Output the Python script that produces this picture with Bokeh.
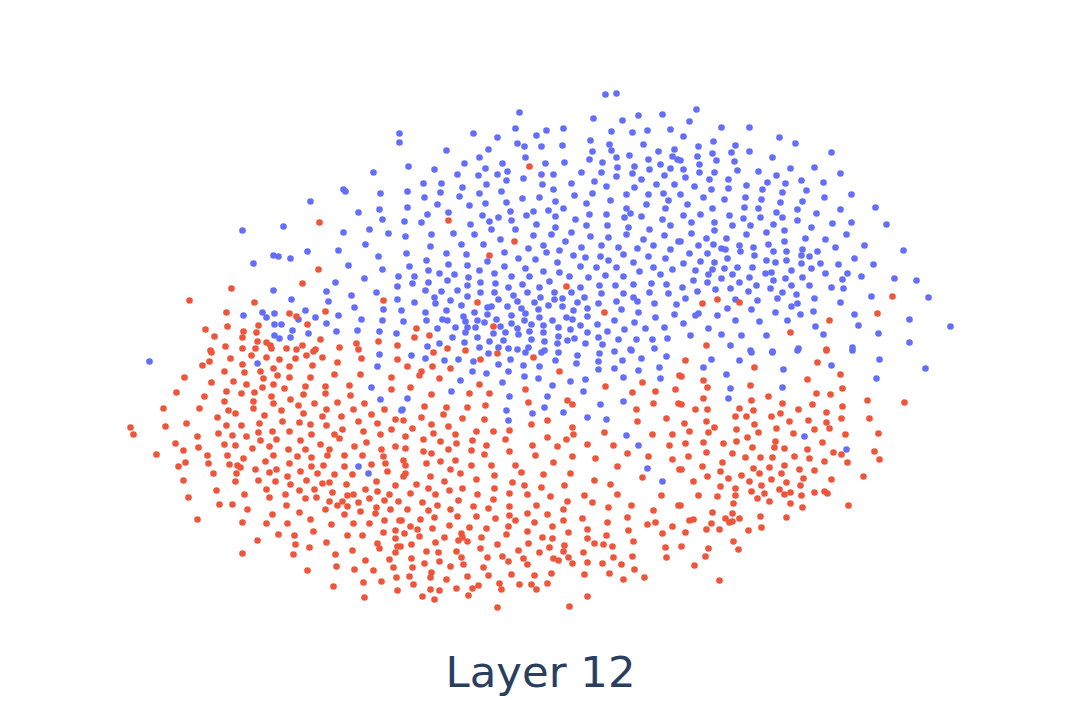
from bokeh.plotting import figure
from bokeh.models import Range1d, Label, ColumnDataSource
from bokeh.embed import file_html
from bokeh.resources import INLINE

BLUE_COLOR = "#636EFA"
RED_COLOR = "#EF553B"
TITLE = "Layer 12"

blue_points = [
(399,133),(399,142),(373,172),(343,189),(345,191),(380,193),(310,201),(379,209),(358,212),(382,219),(283,226),(242,230),(369,229),(343,232),(388,233),(365,244),(338,250),(307,251),(273,255),(278,256),(290,258),(378,256),(253,263),(348,265),(382,269),(398,276),(364,278),(335,282),(397,286),(273,290),(326,291),(376,292),(351,295),(291,299),(328,301),(397,299),(354,307),(383,309),(262,312),(274,313),(305,310),(243,315),(338,315),(266,317),(298,319),(315,317),(361,319),(382,320),(274,324),(281,324),(326,323),(336,331),(292,330),(357,330),(379,331),(396,333),(274,335),(279,338),(290,337),(308,333),
(149,361),(257,363),(379,354),(377,366),(371,387),(380,399),(401,410),(358,466),(368,473),
(411,355),(425,358),(444,360),(458,359),(473,361),(488,353),(510,359),(525,352),(541,352),(558,352),(577,355),(599,353),(614,351),(631,350),(666,356),(641,358),(622,360),(598,361),(576,363),(555,360),(498,364),(523,365),(539,366),(659,367),(614,368),(598,369),(638,370),(472,371),(486,373),(508,371),(524,376),(623,377),(538,378),(585,379),(660,378),(460,380),(502,382),(570,381),(552,385),(451,391),(583,391),(509,396),(547,396),(407,398),(623,401),(600,404),(544,407),(506,410),(402,409),(532,413),(563,412),(587,417),(606,419),(508,420),(626,435),(638,445),(647,468),(662,481),
(711,359),(703,367),(751,352),(739,360),(772,352),(797,350),(852,350),(783,369),(831,365),(879,359),(925,368),(726,374),(876,378),(730,388),(782,387),(728,398),(804,436),(846,449),
(605,94),(616,93),(519,112),(638,115),(662,114),(593,118),(622,120),(515,128),(563,128),(546,130),(536,135),(611,131),(632,132),(647,130),(670,129),(473,133),(497,137),(590,140),(517,143),(524,146),(541,146),(562,145),(609,144),(643,144),(446,150),(488,149),(592,151),(611,150),(658,151),(674,149),(479,157),(525,157),(589,159),(616,157),(629,155),(672,156),(677,159),(464,163),(502,163),(545,163),(564,162),(602,162),(648,159),(660,164),(408,166),(434,169),(485,168),(634,166),(617,167),(649,169),(670,168),(507,171),(457,174),(478,175),(497,174),(541,174),(553,174),(581,172),(601,172),(632,173),(616,176),(664,175),(523,178),(506,180),(594,181),(641,179),(423,183),(441,183),(571,183),(486,184),(542,184),(656,184),(674,184),(462,187),(606,186),(634,187),(501,191),(553,189),(407,191),(440,192),(479,193),(592,193),(663,193),(626,194),(648,194),(574,195),(459,196),(424,197),(522,198),(539,197),(610,200),(668,200),(555,201),(506,202),(485,203),(586,203),(437,204),(469,205),(646,204),(407,207),(665,208),(626,208),(563,208),(510,211),(533,211),(548,210),(448,212),(630,213),(589,214),(427,214),(606,214),(482,215),(526,215),(498,217),(555,216),(624,217),(641,216),(575,219),(662,219),(511,220),(404,221),(421,222),(489,221),(470,224),(536,224),(586,225),(607,225),(670,225),(555,227),(628,227),(491,229),(515,229),(649,229),(431,234),(453,233),(474,234),(571,232),(533,235),(551,234),(626,234),(664,235),(405,236),(500,239),(590,236),(608,237),(643,239),(565,241),(678,241),(461,244),(483,244),(543,245),(601,245),(653,245),(430,246),(528,248),(581,247),(618,247),(637,248),(670,249),(559,250),(504,252),(406,253),(446,253),(466,254),(546,252),(573,255),(623,254),(600,256),(648,256),(518,258),(585,257),(487,261),(535,259),(426,260),(608,260),(665,258),(557,262),(633,262),(448,264),(467,265),(409,266),(504,266),(580,266),(596,267),(616,267),(653,267),(525,268),(479,270),(428,270),(543,271),(672,269),(639,271),(439,273),(454,274),(494,273),(559,272),(605,275),(660,274),(414,276),(511,276),(529,276),(569,276),(588,277),(468,277),(623,276),(447,280),(549,281),(412,283),(428,282),(480,282),(495,283),(651,283),(467,285),(522,284),(599,285),(615,285),(633,284),(666,284),(508,287),(539,287),(580,287),(425,290),(441,291),(457,290),(554,292),(527,292),(571,292),(480,292),(494,292),(601,293),(623,293),(649,292),(668,293),(434,297),(467,296),(513,295),(540,297),(562,298),(584,297),(633,297),(498,299),(554,299),(450,300),(517,301),(534,302),(414,302),(435,303),(577,302),(598,303),(616,301),(637,301),(654,303),(676,304),(461,305),(507,306),(548,305),(562,306),(491,306),(487,307),(587,308),(538,309),(521,308),(446,310),(401,310),(425,312),(474,312),(573,310),(621,309),(638,312),(487,314),(511,315),(525,313),(674,314),(463,316),(587,316),(655,317),(539,317),(566,317),(552,320),(572,319),(403,321),(426,320),(442,319),(447,320),(477,320),(465,321),(524,320),(496,319),(484,322),(511,323),(614,320),(634,322),(597,324),(531,324),(543,325),(580,325),(558,327),(475,327),(467,327),(455,327),(437,328),(500,326),(517,328),(664,327),(645,328),(570,329),(624,329),(587,332),(607,331),(493,333),(529,331),(505,332),(543,332),(465,332),(518,334),(558,336),(452,337),(477,337),(531,339),(544,341),(439,343),(464,342),(489,341),(503,340),(574,338),(598,337),(618,339),(636,339),(652,339),(667,338),(585,343),(602,344),(567,340),(557,343),(427,346),(479,347),(498,347),(528,347),(517,349),(544,350),(508,348),(654,348),(630,349),
(696,109),(689,121),(721,127),(749,127),(683,136),(779,137),(795,143),(713,141),(735,145),(698,146),(831,152),(731,152),(749,151),(712,153),(697,156),(772,157),(716,160),(734,161),(680,160),(699,164),(814,167),(683,169),(790,168),(714,172),(699,172),(737,170),(758,171),(840,173),(685,177),(776,175),(709,179),(728,179),(801,180),(767,182),(823,182),(785,183),(746,185),(694,186),(728,188),(711,189),(762,189),(806,190),(782,192),(851,194),(680,194),(745,197),(703,197),(824,197),(724,199),(761,199),(802,201),(780,202),(687,204),(712,208),(744,207),(758,208),(797,209),(840,209),(875,207),(776,212),(816,213),(700,214),(683,215),(729,215),(760,217),(782,217),(743,218),(797,220),(851,222),(832,223),(886,224),(714,222),(691,222),(732,225),(750,225),(773,224),(811,227),(714,230),(784,230),(691,233),(766,232),(746,234),(846,234),(706,238),(726,238),(805,238),(825,239),(680,241),(784,241),(698,245),(713,244),(739,245),(768,244),(864,245),(721,248),(725,249),(753,247),(802,249),(835,247),(903,250),(689,253),(707,253),(740,251),(817,251),(773,251),(786,251),(754,255),(801,255),(809,256),(854,258),(727,258),(683,263),(700,261),(714,262),(766,260),(786,260),(775,262),(801,263),(820,263),(838,264),(873,264),(724,268),(737,267),(752,267),(695,270),(712,269),(811,268),(791,270),(765,273),(771,272),(825,273),(847,273),(708,274),(732,274),(861,276),(749,277),(721,278),(693,280),(785,278),(802,277),(894,278),(916,280),(842,279),(773,280),(707,282),(739,282),(756,285),(791,285),(809,285),(682,287),(831,287),(843,288),(715,289),(730,288),(770,288),(748,291),(697,291),(782,292),(796,294),(871,296),(928,297),(685,298),(735,299),(777,298),(814,298),(757,300),(840,302),(797,303),(791,306),(727,308),(751,309),(813,311),(775,312),(800,314),(854,314),(698,313),(695,315),(717,315),(735,320),(787,320),(759,321),(909,319),(683,323),(858,325),(950,326),(815,326),(708,328),(721,334),(741,335),(766,335),(690,335),(823,334),(878,333),(909,342),(730,345),(852,347),(798,348),(750,350),(772,351),
]

red_points = [
(319,222),(318,269),(231,288),(302,283),(189,300),(254,302),(383,300),(226,312),(325,311),(289,313),(296,316),(227,326),(258,325),(307,324),(205,329),(243,331),(256,332),(214,336),(242,337),(257,341),(320,339),(378,341),(356,343),(266,342),(270,345),(225,346),(302,345),(339,347),(242,348),(255,348),(286,348),(397,345),(271,348),(315,349),(296,349),(358,349),(210,350),
(211,352),(230,358),(209,361),(202,365),(242,364),(251,355),(266,357),(279,359),(295,358),(306,355),(313,351),(322,357),(337,362),(361,358),(397,359),(273,368),(289,366),(312,365),(184,377),(224,371),(244,372),(260,371),(277,375),(289,377),(310,377),(334,374),(360,374),(391,377),(263,378),(233,381),(211,382),(246,384),(273,384),(305,386),(325,386),(349,385),(262,387),(284,388),(176,392),(226,391),(241,393),(254,392),(325,393),(350,395),(391,389),(303,394),(204,396),(271,396),(290,399),(253,401),(224,401),(337,402),(314,403),(364,403),(273,403),(298,405),(163,408),(199,408),(253,408),(326,409),(353,409),(384,409),(228,410),(281,410),(235,413),(303,413),(371,414),(264,415),(217,417),(322,416),(341,416),(395,419),(282,421),(358,421),(299,422),(186,423),(259,423),(377,423),(226,425),(241,425),(310,424),(326,425),(165,426),(130,427),(342,429),(391,429),(363,431),(272,431),(289,431),(218,433),(258,432),(133,434),(232,435),(246,436),(311,434),(334,434),(380,434),(197,436),(276,439),(260,440),(300,440),(339,438),(175,443),(366,442),(224,444),(235,445),(320,444),(395,446),(198,447),(269,446),(354,446),(252,448),(305,449),(288,449),(329,449),(381,449),(183,450),(156,454),(207,455),(227,455),(273,455),(297,456),(327,455),(344,455),(362,455),(383,456),(243,458),(311,457),(265,461),(185,462),(208,463),(289,463),(229,464),(237,465),(323,465),(344,466),(311,466),(371,464),(385,463),(178,466),(240,467),(255,469),(276,469),(387,471),(300,471),(236,473),(213,473),(269,472),(317,473),(352,474),(334,474),(287,476),(183,480),(258,480),(235,481),(306,480),(275,481),(329,482),(322,483),(376,481),(346,484),(290,484),(395,485),(216,490),(266,489),(299,490),(314,489),(365,489),(377,491),(332,492),(244,494),(285,494),(347,495),(353,494),(389,494),(188,497),(269,497),(316,497),(305,498),(369,498),(384,500),(329,501),(342,501),(398,501),(358,502),(232,504),(219,504),(286,505),(337,505),(347,506),(376,507),(247,509),(325,509),(390,509),(299,512),(360,511),(375,513),(272,514),(344,514),(197,519),(242,522),(310,519),(384,520),(399,520),(266,523),(287,523),(331,524),(353,523),(369,523),(395,530),(313,531),(383,532),(278,534),(347,535),(294,535),(362,535),(395,538),(257,540),(326,542),(377,543),(295,544),(397,546),(309,547),(379,548),(352,550),(242,553),(293,554),(335,554),(395,552),(389,559),(365,560),(336,566),(393,567),(354,569),(373,570),(307,570),(396,577),(381,581),(363,582),(333,586),(397,590),(364,597),
(433,352),(497,353),(533,357),(480,359),(407,366),(432,366),(450,368),(421,371),(419,375),(559,371),(439,378),(642,382),(679,375),(479,384),(410,387),(605,386),(525,389),(675,389),(431,394),(469,393),(489,393),(632,392),(655,391),(567,400),(572,404),(528,402),(653,403),(678,403),(446,407),(424,406),(467,407),(485,405),(636,409),(443,414),(421,417),(403,420),(462,418),(484,419),(547,420),(666,418),(637,421),(431,424),(531,424),(448,426),(412,428),(572,427),(476,431),(493,431),(509,430),(604,432),(433,433),(652,434),(672,434),(573,434),(455,434),(405,436),(547,437),(423,439),(505,439),(472,440),(566,439),(440,441),(456,443),(486,445),(532,445),(587,444),(557,446),(613,445),(669,445),(405,448),(448,449),(471,450),(509,451),(423,451),(431,453),(627,453),(484,454),(535,455),(572,456),(648,456),(595,458),(672,459),(403,460),(440,461),(455,460),(426,463),(553,462),(405,465),(471,465),(491,465),(515,465),(617,466),(450,469),(679,469),(521,472),(460,473),(570,473),(543,474),(405,473),(430,476),(494,475),(403,476),(642,477),(444,481),(476,479),(594,480),(416,484),(512,482),(610,484),(524,485),(564,485),(462,488),(428,488),(494,488),(541,487),(449,490),(410,493),(477,494),(509,493),(527,494),(435,494),(617,494),(584,495),(661,495),(550,496),(493,499),(458,500),(422,502),(567,501),(592,502),(437,505),(473,506),(509,506),(536,505),(631,505),(678,505),(608,507),(488,508),(407,509),(428,510),(450,509),(563,509),(653,510),(527,513),(547,514),(434,517),(457,516),(476,516),(509,515),(627,517),(495,518),(420,519),(582,518),(401,520),(515,520),(563,520),(607,522),(534,522),(655,522),(647,524),(449,525),(410,526),(469,527),(508,526),(552,526),(672,526),(432,528),(486,528),(417,529),(587,529),(628,530),(527,531),(568,532),(404,533),(662,533),(461,533),(506,534),(606,535),(481,537),(444,537),(419,536),(542,537),(552,538),(462,537),(458,540),(467,541),(587,538),(435,542),(633,541),(528,543),(594,543),(497,544),(411,544),(603,544),(564,545),(612,546),(665,547),(480,548),(549,547),(400,546),(426,551),(518,550),(539,552),(563,551),(583,552),(438,552),(456,551),(502,556),(632,556),(613,557),(461,557),(487,557),(411,558),(523,558),(553,558),(666,557),(568,557),(558,560),(508,561),(439,561),(572,563),(587,562),(602,563),(424,563),(527,564),(463,564),(621,564),(450,566),(412,567),(483,567),(634,569),(431,572),(551,573),(609,573),(584,574),(488,575),(409,576),(511,574),(534,575),(467,576),(430,577),(623,579),(644,577),(446,579),(413,584),(499,583),(519,584),(547,583),(531,584),(478,585),(536,589),(472,588),(456,588),(501,589),(430,589),(439,590),(587,596),(422,596),(468,595),(434,599),(497,607),(569,606),
(685,360),(817,362),(826,350),(754,367),(840,374),(681,376),(703,380),(807,379),(707,387),(750,385),(842,388),(816,393),(830,394),(703,398),(768,396),(751,400),(867,400),(904,402),(681,404),(812,404),(782,403),(842,406),(739,408),(695,409),(707,409),(798,409),(753,410),(826,412),(735,416),(746,416),(780,413),(771,416),(869,418),(841,418),(808,420),(706,421),(789,421),(826,422),(684,423),(754,424),(714,427),(736,429),(776,428),(814,429),(829,428),(689,431),(708,432),(758,432),(793,433),(845,434),(878,433),(747,437),(775,441),(736,441),(685,443),(703,442),(723,443),(822,442),(774,447),(752,447),(784,448),(807,449),(833,452),(874,451),(732,453),(706,452),(688,456),(745,457),(760,457),(772,457),(794,456),(809,458),(841,454),(879,459),(824,461),(847,462),(722,462),(784,465),(702,466),(753,468),(769,467),(799,469),(681,469),(814,470),(720,471),(759,473),(781,473),(741,475),(707,476),(863,476),(728,478),(803,478),(831,479),(771,479),(693,481),(749,481),(786,482),(800,485),(761,485),(720,486),(735,488),(779,489),(751,491),(814,492),(824,491),(827,493),(790,492),(764,493),(784,494),(735,495),(801,495),(698,495),(717,496),(757,498),(769,501),(733,503),(790,503),(848,505),(680,505),(802,507),(712,512),(732,513),(760,516),(786,517),(725,518),(739,518),(693,519),(689,520),(732,521),(729,522),(711,523),(761,527),(706,529),(719,529),(748,530),(685,532),(733,541),(681,546),(708,548),(738,549),(705,556),(694,565),(719,580),
(529,166),(448,220),(514,241),(489,255),(566,286),(477,302),(604,312),(493,326),(416,328),(414,337),(429,335),(447,348),(465,350),
(702,303),(717,299),(739,302),(892,296),(877,313),(829,320),(790,332),(706,345),(826,349),
]

blue_x = [pt[0] for pt in blue_points]
blue_y = [pt[1] for pt in blue_points]
red_x = [pt[0] for pt in red_points]
red_y = [pt[1] for pt in red_points]

p = figure(width=1064, height=704, x_range=Range1d(0, 1064), y_range=Range1d(704, 0),
           output_backend="svg", toolbar_location=None, min_border=0,
           background_fill_color="white", border_fill_color="white", outline_line_color=None)
p.axis.visible = False
p.grid.visible = False

p.scatter(x=blue_x, y=blue_y, size=6.6, fill_color=BLUE_COLOR, line_color=None)
p.scatter(x=red_x, y=red_y, size=6.6, fill_color=RED_COLOR, line_color=None)

p.add_layout(Label(x=540, y=671, text=TITLE, text_font="DejaVu Sans", text_font_size="43.4px",
                   text_color="#2a3f5f", text_align="center", text_baseline="alphabetic"))

open("out.html", "w").write(file_html(p, INLINE))
